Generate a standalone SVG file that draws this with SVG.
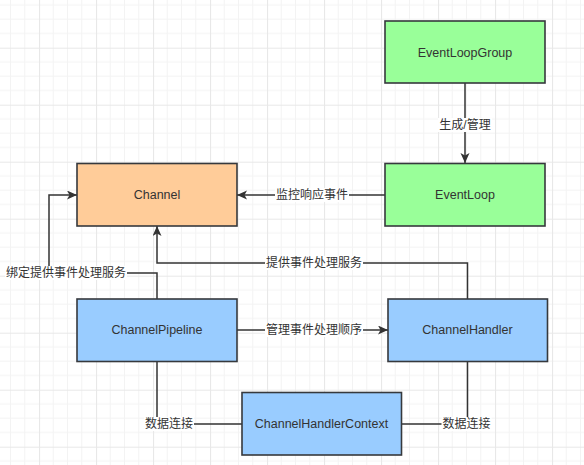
<svg xmlns="http://www.w3.org/2000/svg" width="584" height="465" viewBox="0 0 584 465">
<defs>
<pattern id="grid" patternUnits="userSpaceOnUse" x="39" y="47.7" width="57" height="57">
<path d="M14.25,0 V57 M28.5,0 V57 M42.75,0 V57 M0,14.25 H57 M0,28.5 H57 M0,42.75 H57" stroke="#f3f3f3" stroke-width="1" fill="none"/>
<path d="M0.5,0 V57 M0,0.5 H57" stroke="#e8e8e8" stroke-width="1.2" fill="none"/>
</pattern>
<marker id="arrow" markerUnits="userSpaceOnUse" markerWidth="11" markerHeight="10" refX="10" refY="4.5" orient="auto">
<path d="M0,0 L10,4.5 L0,9 L2.5,4.5 Z" fill="#333333"/>
</marker>
</defs>
<style>
.node rect { stroke: #36393d; stroke-width: 1.6; }
.green { fill: #99ff99; }
.orange { fill: #ffcc99; }
.blue { fill: #99ccff; }
.ntext { font-family: "Liberation Sans", Arial, sans-serif; font-size: 12.5px; fill: #333333; text-anchor: middle; dominant-baseline: central; }
.edge { fill: none; stroke: #333333; stroke-width: 1.5; }
.lbg { fill: #ffffff; }
.ltext { font-family: "Liberation Sans", "Noto Sans CJK SC", sans-serif; font-size: 12px; fill: #333333; text-anchor: middle; dominant-baseline: central; }
</style>
<rect x="0" y="0" width="584" height="465" fill="#ffffff"/>
<rect x="0" y="0" width="584" height="465" fill="url(#grid)"/>

<g id="connectors">
<path class="edge" d="M465,83 V163" marker-end="url(#arrow)"/>
<path class="edge" d="M385,195 H237" marker-end="url(#arrow)"/>
<path class="edge" d="M157,299 V273 H49 V195 H77" marker-end="url(#arrow)"/>
<path class="edge" d="M467.5,299 V263 H157 V226" marker-end="url(#arrow)"/>
<path class="edge" d="M237,330 H388" marker-end="url(#arrow)"/>
<path class="edge" d="M157,361 V424 H242"/>
<path class="edge" d="M401,424 H467.5 V361"/>

<rect class="lbg" x="438" y="118" width="54" height="14"/>
<text class="ltext" x="465" y="125">生成/管理</text>
<rect class="lbg" x="275" y="188" width="74" height="14"/>
<text class="ltext" x="312" y="195">监控响应事件</text>
<rect class="lbg" x="5" y="266" width="122" height="14"/>
<text class="ltext" x="66" y="273">绑定提供事件处理服务</text>
<rect class="lbg" x="265" y="256" width="98" height="14"/>
<text class="ltext" x="314" y="263">提供事件处理服务</text>
<rect class="lbg" x="265" y="323" width="98" height="14"/>
<text class="ltext" x="314" y="330">管理事件处理顺序</text>
<rect class="lbg" x="144" y="417" width="50" height="14"/>
<text class="ltext" x="169" y="424">数据连接</text>
<rect class="lbg" x="441.5" y="417" width="50" height="14"/>
<text class="ltext" x="466.5" y="424">数据连接</text>
</g>

<g id="EventLoopGroup" class="node">
<rect class="green" x="385" y="21" width="160" height="62"/>
<text class="ntext" x="465" y="53">EventLoopGroup</text>
</g>
<g id="EventLoop" class="node">
<rect class="green" x="385" y="163.5" width="160" height="62.5"/>
<text class="ntext" x="465" y="195">EventLoop</text>
</g>
<g id="Channel" class="node">
<rect class="orange" x="77" y="163.5" width="160" height="62.5"/>
<text class="ntext" x="157" y="195">Channel</text>
</g>
<g id="ChannelPipeline" class="node">
<rect class="blue" x="77" y="299" width="160" height="62.5"/>
<text class="ntext" x="157" y="330">ChannelPipeline</text>
</g>
<g id="ChannelHandler" class="node">
<rect class="blue" x="388" y="299" width="159.5" height="62.5"/>
<text class="ntext" x="467.5" y="330">ChannelHandler</text>
</g>
<g id="ChannelHandlerContext" class="node">
<rect class="blue" x="242" y="392.5" width="159.5" height="62.5"/>
<text class="ntext" x="321.5" y="424">ChannelHandlerContext</text>
</g>
</svg>
